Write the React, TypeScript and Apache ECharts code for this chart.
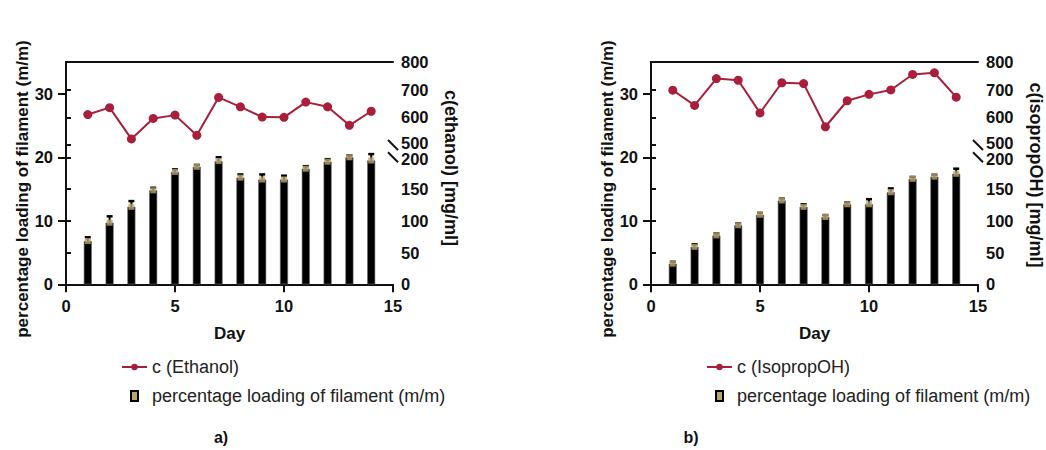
import React, { useEffect, useRef } from 'react';
import * as echarts from 'echarts';

// ---------- data ----------
const days = [1, 2, 3, 4, 5, 6, 7, 8, 9, 10, 11, 12, 13, 14];

const ethanolLoading = [6.8, 9.7, 12.2, 14.8, 17.7, 18.5, 19.4, 16.8, 16.5, 16.5, 18.2, 19.3, 20.0, 19.5];
const ethanolLoadingSD = [0.6, 1.0, 0.9, 0.4, 0.4, 0.3, 0.6, 0.5, 0.8, 0.6, 0.4, 0.4, 0.3, 1.0];
const ethanolConc = [610, 635, 522, 596, 608, 535, 672, 638, 601, 600, 655, 638, 571, 622];

const isoLoading = [3.25, 5.9, 7.7, 9.3, 10.95, 13.2, 12.2, 10.6, 12.6, 12.6, 14.5, 16.6, 16.95, 17.4];
const isoLoadingSD = [0.3, 0.4, 0.3, 0.3, 0.3, 0.3, 0.4, 0.3, 0.3, 0.8, 0.6, 0.3, 0.3, 0.8];
const isoConc = [698, 643, 740, 734, 616, 725, 722, 566, 660, 683, 699, 755, 761, 673];

const leftTicks = [0, 10, 20, 30];
const loadingName = 'percentage loading of filament (m/m)';

// ---------- style ----------
const FONT = '"Liberation Sans", Arial, Helvetica, sans-serif';
const INK = '#111111';
const CRIMSON = '#a81e3b';
const TAN = '#b8a46c';

const TOP = 62;
const H = 222.3;
const W = 327;
const BREAK_TOP = 145; // y of 500 on the upper right segment

const LINE_ICON = 'path://M0,5H25V7H0Z M15.7,6A3.2,3.2 0 1 1 9.3,6A3.2,3.2 0 1 1 15.7,6Z';
const BAR_ICON = 'path://M0,0H7V10H0Z';

export default function App() {
  const ref = useRef<HTMLDivElement>(null);

  useEffect(() => {
    document.body.style.margin = '0';
    const chart = echarts.init(ref.current as HTMLDivElement, undefined, { renderer: 'svg' });

    const panels = [
      { left: 66, lineName: 'c (Ethanol)', title: 'c(ethanol) [mg/ml]', loading: ethanolLoading, sd: ethanolLoadingSD, conc: ethanolConc, tag: 'a)', tagX: 221, rTitleY: 168 },
      { left: 651, lineName: 'c (IsopropOH)', title: 'c(isopropOH) [mg/ml]', loading: isoLoading, sd: isoLoadingSD, conc: isoConc, tag: 'b)', tagX: 691, rTitleY: 175 },
    ];

    const bottomTop = TOP + H * (15 / 35); // 200 on right = 20 on left
    const grid: any[] = [];
    const xAxis: any[] = [];
    const yAxis: any[] = [];
    const series: any[] = [];
    const legend: any[] = [];
    const graphic: any[] = [];

    const axisLine = { show: true, lineStyle: { color: INK, width: 2 } };
    const labelStyle = { color: INK, fontWeight: 'bold', fontSize: 16.5, fontFamily: FONT };

    panels.forEach((p, i) => {
      const gi = i * 3;
      grid.push({ left: p.left, top: TOP, width: W, height: H, outerBoundsMode: 'none' });
      grid.push({ left: p.left, top: TOP, width: W, height: BREAK_TOP - TOP, outerBoundsMode: 'none' });
      grid.push({ left: p.left, top: bottomTop, width: W, height: TOP + H - bottomTop, outerBoundsMode: 'none' });

      // main x axis
      xAxis.push({
        gridIndex: gi, type: 'value', min: 0, max: 15, interval: 5, position: 'bottom',
        axisLine, axisTick: { show: true, length: 8, lineStyle: { color: INK, width: 2 } },
        axisLabel: { ...labelStyle, margin: 13 }, splitLine: { show: false },
        name: 'Day', nameLocation: 'middle', nameGap: 41,
        nameTextStyle: { color: INK, fontWeight: 'bold', fontSize: 17, fontFamily: FONT },
      });
      // top border
      xAxis.push({
        gridIndex: gi + 1, type: 'value', min: 0, max: 15, position: 'top',
        axisLine, axisTick: { show: false }, axisLabel: { show: false }, splitLine: { show: false },
      });
      // hidden x for lower right segment
      xAxis.push({ gridIndex: gi + 2, type: 'value', min: 0, max: 15, show: false });

      // left axis
      yAxis.push({
        gridIndex: gi, type: 'value', min: 0, max: 35, interval: 10, position: 'left',
        axisLine, axisTick: { show: true, length: 8, customValues: leftTicks, lineStyle: { color: INK, width: 2 } },
        axisLabel: { ...labelStyle, margin: 13, customValues: leftTicks }, splitLine: { show: false },
      });
      // right upper (concentration)
      yAxis.push({
        gridIndex: gi + 1, type: 'value', min: 500, max: 800, interval: 100, position: 'right',
        axisLine, axisTick: { show: true, length: 5, lineStyle: { color: INK, width: 2 } },
        axisLabel: {
          ...labelStyle, margin: 8,
          formatter: (v: number) => (v === 500 ? '{lo|500}' : String(v)),
          rich: { lo: { ...labelStyle, padding: [0, 0, 5, 0] } },
        },
        splitLine: { show: false },
      });
      // right lower (loading x10)
      yAxis.push({
        gridIndex: gi + 2, type: 'value', min: 0, max: 200, interval: 50, position: 'right',
        axisLine, axisTick: { show: true, length: 5, lineStyle: { color: INK, width: 2 } },
        axisLabel: {
          ...labelStyle, margin: 8,
          formatter: (v: number) => (v === 200 ? '{hi|200}' : String(v)),
          rich: { hi: { ...labelStyle, padding: [4, 0, 0, 0] } },
        },
        splitLine: { show: false },
      });

      const barData = days.map((d, k) => [d, p.loading[k]]);
      series.push({
        name: loadingName, type: 'bar', xAxisIndex: gi, yAxisIndex: gi, barWidth: 8,
        data: barData, itemStyle: { color: '#000', borderColor: '#666', borderWidth: 0.6 }, z: 2,
      });
      series.push({
        name: 'sd' + i, type: 'custom', xAxisIndex: gi, yAxisIndex: gi, z: 3,
        data: days.map((d, k) => [d, p.loading[k], p.sd[k]]),
        renderItem: (params: any, api: any) => {
          const x = api.value(0), m = api.value(1), s = api.value(2);
          const p0 = api.coord([x, m]);
          const p1 = api.coord([x, m + s]);
          return {
            type: 'group',
            children: [
              { type: 'line', shape: { x1: p0[0], y1: p0[1], x2: p1[0], y2: p1[1] }, style: { stroke: '#000', lineWidth: 2 } },
              { type: 'line', shape: { x1: p1[0] - 3, y1: p1[1], x2: p1[0] + 3, y2: p1[1] }, style: { stroke: '#000', lineWidth: 2.5 } },
            ],
          };
        },
      });
      series.push({
        name: 'mean' + i, type: 'scatter', xAxisIndex: gi, yAxisIndex: gi, z: 4,
        symbol: 'rect', symbolSize: 6, data: barData, itemStyle: { color: TAN },
      });
      series.push({
        name: p.lineName, type: 'line', xAxisIndex: gi + 1, yAxisIndex: gi + 1, z: 5,
        data: days.map((d, k) => [d, p.conc[k]]), clip: false,
        symbol: 'circle', symbolSize: 9, showSymbol: true,
        itemStyle: { color: CRIMSON }, lineStyle: { color: CRIMSON, width: 2 },
      });

      legend.push({
        left: p.left + 51, top: 353, orient: 'vertical', itemGap: 11, itemWidth: 25, itemHeight: 10,
        textStyle: { color: '#222', fontSize: 18, fontFamily: FONT },
        selectedMode: false,
        data: [
          { name: p.lineName, icon: LINE_ICON, itemStyle: { color: CRIMSON, borderWidth: 0 } },
          { name: loadingName, icon: BAR_ICON, itemStyle: { color: TAN, borderColor: '#000', borderWidth: 2 } },
        ],
      });

      const ax = p.left + W;
      graphic.push(
        { type: 'line', shape: { x1: ax - 5, y1: BREAK_TOP - 5, x2: ax + 5, y2: BREAK_TOP + 5 }, style: { stroke: INK, lineWidth: 2 } },
        { type: 'line', shape: { x1: ax - 5, y1: bottomTop - 5, x2: ax + 5, y2: bottomTop + 5 }, style: { stroke: INK, lineWidth: 2 } },
        {
          type: 'text', x: p.left - 44, y: 189, rotation: Math.PI / 2,
          style: { text: loadingName, fill: INK, font: `bold 17px ${FONT}`, textAlign: 'center', textVerticalAlign: 'middle' },
        },
        {
          type: 'text', x: ax + 58, y: p.rTitleY, rotation: -Math.PI / 2,
          style: { text: p.title, fill: INK, font: `bold 18px ${FONT}`, textAlign: 'center', textVerticalAlign: 'middle' },
        },
        {
          type: 'text', x: p.tagX, y: 437,
          style: { text: p.tag, fill: INK, font: `bold 16px ${FONT}`, textAlign: 'center', textVerticalAlign: 'middle' },
        },
      );
    });

    chart.setOption({
      animation: false,
      backgroundColor: '#ffffff',
      grid, xAxis, yAxis, series, legend, graphic,
    });

    return () => chart.dispose();
  }, []);

  return <div ref={ref} style={{ width: 1046, height: 450 }} />;
}
